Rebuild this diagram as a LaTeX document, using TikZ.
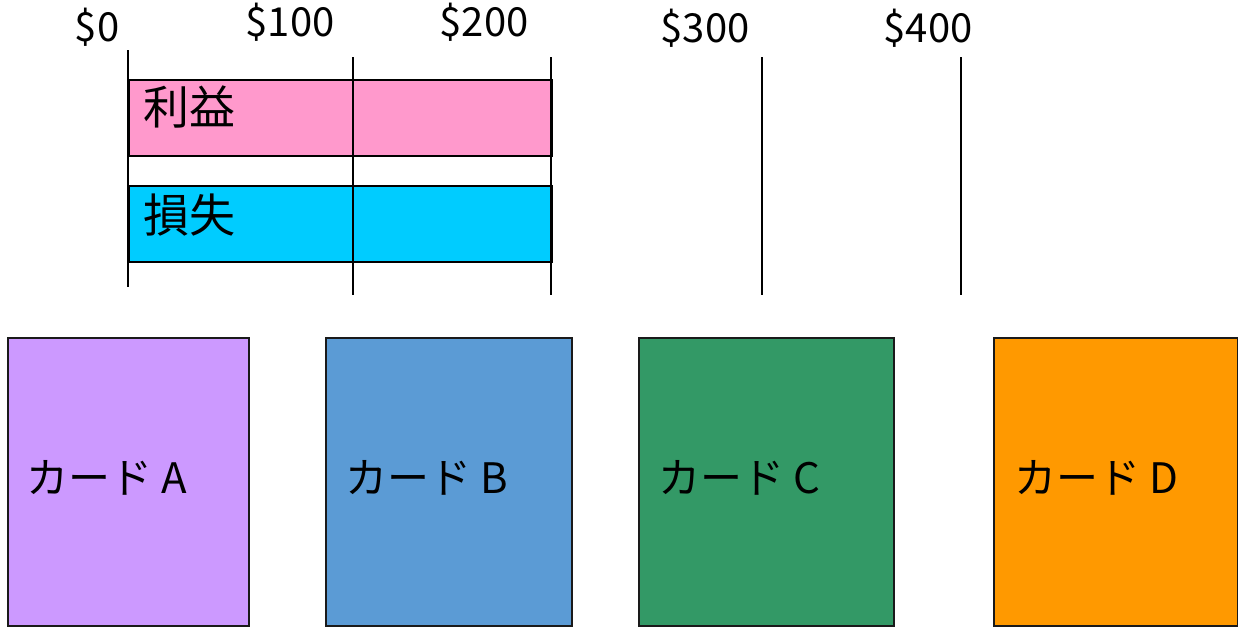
\documentclass[tikz,border=0pt]{standalone}
\usepackage{fontspec}
\setmainfont{Noto Sans CJK JP}
\usetikzlibrary{positioning}
\definecolor{profit}{HTML}{FF99CC}
\definecolor{loss}{HTML}{00CCFF}
\definecolor{cardA}{HTML}{CC99FF}
\definecolor{cardB}{HTML}{5B9BD5}
\definecolor{cardC}{HTML}{339966}
\definecolor{cardD}{HTML}{FF9900}
\definecolor{edge}{HTML}{1A1A1A}

\begin{document}
\begin{tikzpicture}[x=1pt,y=-1pt,
bar/.style={draw,line width=1.8pt,anchor=north west,minimum width=423pt,minimum height=76pt,inner sep=0pt},
card/.style={draw=edge,line width=1.5pt,anchor=north west,minimum height=288pt,inner sep=0pt},
tick/.style={line width=1.2pt},
money/.style={anchor=base,font=\fontsize{40}{40}\selectfont,inner sep=0pt},
barlbl/.style={anchor=west,font=\fontsize{46}{46}\selectfont,inner sep=0pt},
cardlbl/.style={anchor=west,font=\fontsize{42}{42}\selectfont,inner sep=0pt}]
\useasboundingbox (0,0) rectangle (1238,627);
% profit / loss bars
\node[bar,fill=profit](pr) at (128,79){};
\node[bar,fill=loss](ls) at (128,185){};
\node[barlbl](prl) at ([xshift=15pt,yshift=11pt]pr.west){利益};
\node[barlbl](lsl) at ([xshift=15pt,yshift=9pt]ls.west){損失};
% scale
\foreach \x/\t/\b/\lbl/\n in {128/50/287/0/0,353/57/295/100/1,551/57/295/200/2,762/57/295/300/3,961/57/295/400/4}{
  \coordinate (t\n) at (\x,\t);
  \coordinate (b\n) at (\x,\b);
  \draw[tick](t\n)--(b\n);
}
\node[money](m0) at (97,41){\$0};
\node[money](m1) at (290,36){\$100};
\node[money](m2) at (484,36){\$200};
\node[money](m3) at (705,42){\$300};
\node[money](m4) at (928,42){\$400};
% cards
\node[card,fill=cardA,minimum width=241pt](ca) at (7,337){};
\node[card,fill=cardB,minimum width=246pt](cb) at (325,337){};
\node[card,fill=cardC,minimum width=255pt](cc) at (638,337){};
\node[card,fill=cardD,minimum width=244pt](cd) at (993,337){};
\node[cardlbl](la) at ([xshift=19pt,yshift=4pt]ca.west){カード A};
\node[cardlbl](lb) at ([xshift=20pt,yshift=4pt]cb.west){カード B};
\node[cardlbl](lc) at ([xshift=20pt,yshift=4pt]cc.west){カード C};
\node[cardlbl](ld) at ([xshift=21pt,yshift=4pt]cd.west){カード D};
\end{tikzpicture}
\end{document}
